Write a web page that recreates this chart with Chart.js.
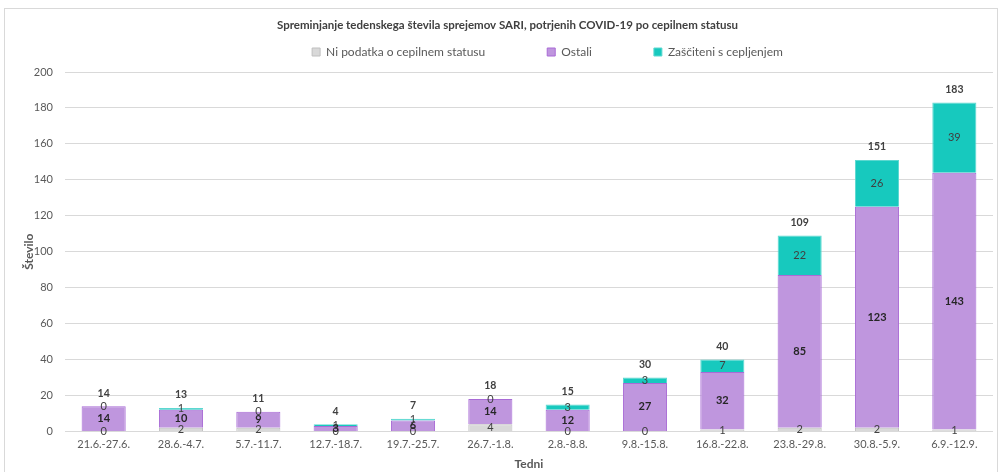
<!DOCTYPE html>
<html>
<head>
<meta charset="utf-8">
<script src="https://cdn.jsdelivr.net/npm/chart.js@4"></script>
<style>
  html, body { margin: 0; padding: 0; background: #fff; }
  #wrap { position: relative; width: 1001px; height: 472px; }
</style>
</head>
<body>
<div id="wrap"><canvas id="chart" width="1001" height="472"></canvas></div>
<script>
// Chart data
const weeks = ['21.6.-27.6.', '28.6.-4.7.', '5.7.-11.7.', '12.7.-18.7.', '19.7.-25.7.', '26.7.-1.8.',
    '2.8.-8.8.', '9.8.-15.8.', '16.8.-22.8.', '23.8.-29.8.', '30.8.-5.9.', '6.9.-12.9.'];
const noData = [0, 2, 2, 0, 0, 4, 0, 0, 1, 2, 2, 1];
const others = [14, 10, 9, 3, 6, 14, 12, 27, 32, 85, 123, 143];
const protectedVacc = [0, 1, 0, 1, 1, 0, 3, 3, 7, 22, 26, 39];
const yTicks = { min: 0, max: 200, step: 20 };

const FONT = 'Lato, "Open Sans", sans-serif';
const LEGEND_GAP = 62;

// frame around the whole chart
const framePlugin = {
    id: 'frame',
    beforeDraw(chart) {
        const ctx = chart.ctx;
        ctx.save();
        ctx.strokeStyle = '#d9d9d9';
        ctx.lineWidth = 1;
        ctx.strokeRect(4.5, 8.5, 993, 480);
        ctx.restore();
    }
};

// wide gaps between legend items, but keep the legend row close under the title
// (and a bit right of centre, like the original)
const legendShift = {
    id: 'legendShift',
    afterLayout(chart) {
        const lg = chart.legend;
        if (!lg) return;
        lg.top = 52 - LEGEND_GAP - 6;
        lg.left += 40;
        lg.right += 40;
    }
};

// value labels in segments + totals above bars
const labelPlugin = {
    id: 'segLabels',
    afterDatasetsDraw(chart) {
        const ctx = chart.ctx;
        ctx.save();
        ctx.textAlign = 'center';
        ctx.textBaseline = 'middle';
        chart.data.datasets.forEach((ds, di) => {
            const meta = chart.getDatasetMeta(di);
            meta.data.forEach((bar, i) => {
                const yMid = (bar.y + bar.base) / 2;
                ctx.font = (di === 1 ? 'bold ' : '') + '11px ' + FONT;
                ctx.fillStyle = di === 1 ? '#262626' : '#404040';
                ctx.fillText(ds.data[i], bar.x, yMid);
            });
        });
        // totals
        const last = chart.getDatasetMeta(chart.data.datasets.length - 1);
        ctx.font = 'bold 10.5px ' + FONT;
        ctx.fillStyle = '#404040';
        last.data.forEach((bar, i) => {
            const total = noData[i] + others[i] + protectedVacc[i];
            ctx.fillText(total, bar.x, bar.y - 13);
        });
        ctx.restore();
    }
};

new Chart(document.getElementById('chart'), {
    type: 'bar',
    data: {
        labels: weeks,
        datasets: [{
            label: 'Ni podatka o cepilnem statusu',
            data: noData,
            backgroundColor: '#d9d9d9',
            borderColor: '#bfbfbf',
            borderWidth: 1
        }, {
            label: 'Ostali',
            data: others,
            backgroundColor: '#bf96de',
            borderColor: '#a96bd6',
            borderWidth: 1
        }, {
            label: 'Zaščiteni s cepljenjem',
            data: protectedVacc,
            backgroundColor: '#17c9be',
            borderColor: '#5cd8d0',
            borderWidth: 1
        }]
    },
    options: {
        responsive: false,
        animation: false,
        devicePixelRatio: 1,
        layout: { padding: { left: 22, right: 8, top: 10, bottom: 0 } },
        plugins: {
            title: {
                display: true,
                text: 'Spreminjanje tedenskega števila sprejemov SARI, potrjenih COVID-19 po cepilnem statusu',
                color: '#404040',
                font: { family: FONT, size: 11.5, weight: 'bold' },
                padding: { top: 8, bottom: 0.6 }
            },
            legend: {
                position: 'top',
                maxHeight: 39.6,
                labels: {
                    color: '#595959',
                    font: { family: FONT, size: 12 },
                    boxWidth: 8,
                    boxHeight: 8,
                    padding: LEGEND_GAP
                }
            },
            tooltip: { enabled: false }
        },
        scales: {
            x: {
                stacked: true,
                grid: { display: false, drawTicks: false },
                border: { display: false },
                ticks: { color: '#595959', font: { family: FONT, size: 11 }, maxRotation: 0, padding: 6 },
                title: {
                    display: true, text: 'Tedni', color: '#595959',
                    font: { family: FONT, size: 12, weight: 'bold' }, padding: { top: 0, bottom: 1 }
                }
            },
            y: {
                stacked: true,
                min: yTicks.min,
                max: yTicks.max,
                grid: { color: '#d9d9d9', drawTicks: false },
                border: { display: false },
                ticks: { stepSize: yTicks.step, color: '#595959', font: { family: FONT, size: 11 }, padding: 12 },
                title: {
                    display: true, text: 'Število', color: '#595959',
                    font: { family: FONT, size: 12, weight: 'bold' }, padding: { top: 0, bottom: 0 }
                },
                afterFit(scale) { scale.width = 43; }
            }
        },
        datasets: { bar: { barPercentage: 0.57, categoryPercentage: 1 } }
    },
    plugins: [framePlugin, legendShift, labelPlugin]
});
</script>
</body>
</html>
